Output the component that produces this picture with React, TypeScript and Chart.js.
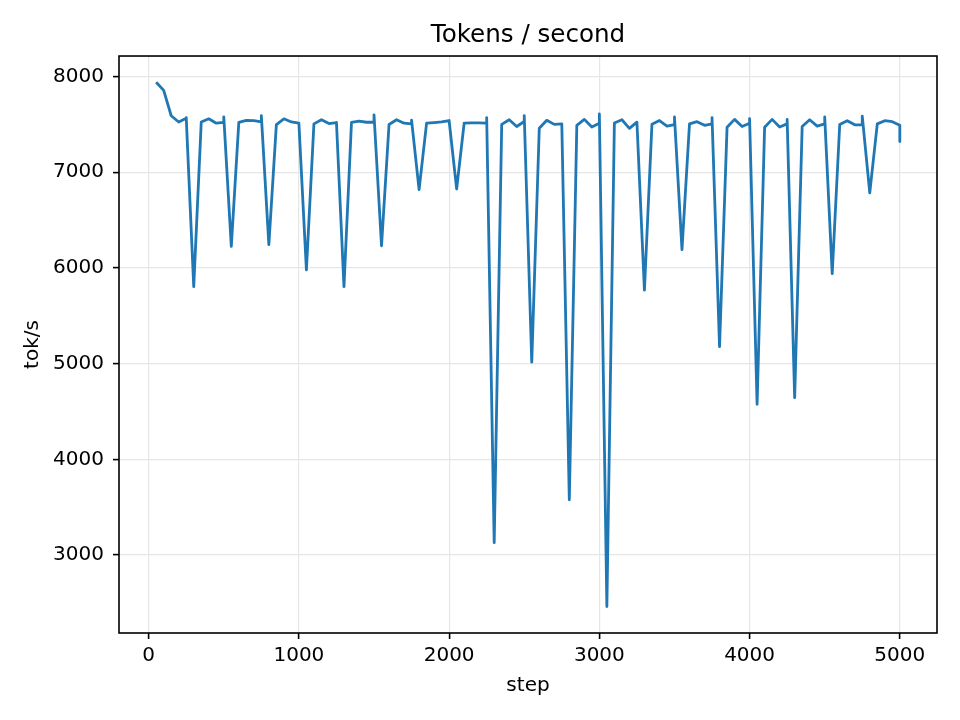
import React, { useEffect, useRef } from "react";
import { Chart, registerables } from "chart.js";
import type { Plugin } from "chart.js";

Chart.register(...registerables);

// logged steps; eval steps (every 250) show up twice
const steps = [
  50, 100, 150, 200, 250, 250, 300, 350, 400, 450, 500, 500,
  550, 600, 650, 700, 750, 750, 800, 850, 900, 950, 1000, 1000,
  1050, 1100, 1150, 1200, 1250, 1250, 1300, 1350, 1400, 1450, 1500, 1500,
  1550, 1600, 1650, 1700, 1750, 1750, 1800, 1850, 1900, 1950, 2000, 2000,
  2050, 2100, 2150, 2200, 2250, 2250, 2300, 2350, 2400, 2450, 2500, 2500,
  2550, 2600, 2650, 2700, 2750, 2750, 2800, 2850, 2900, 2950, 3000, 3000,
  3050, 3100, 3150, 3200, 3250, 3250, 3300, 3350, 3400, 3450, 3500, 3500,
  3550, 3600, 3650, 3700, 3750, 3750, 3800, 3850, 3900, 3950, 4000, 4000,
  4050, 4100, 4150, 4200, 4250, 4250, 4300, 4350, 4400, 4450, 4500, 4500,
  4550, 4600, 4650, 4700, 4750, 4750, 4800, 4850, 4900, 4950, 5000, 5000,
];

const tokPerSec = [
  7940, 7855, 7590, 7525, 7565, 7570, 5805, 7525, 7558, 7512, 7520, 7578,
  6225, 7520, 7542, 7538, 7525, 7592, 6243, 7498, 7558, 7525, 7512, 7510,
  5980, 7505, 7548, 7508, 7518, 7520, 5805, 7520, 7535, 7522, 7522, 7600,
  6232, 7498, 7548, 7512, 7505, 7545, 6818, 7512, 7518, 7525, 7540, 7538,
  6825, 7512, 7515, 7515, 7512, 7570, 3130, 7500, 7548, 7478, 7530, 7592,
  5015, 7460, 7542, 7500, 7505, 7505, 3578, 7490, 7552, 7472, 7512, 7608,
  2462, 7515, 7548, 7458, 7523, 7523, 5768, 7500, 7540, 7482, 7498, 7578,
  6192, 7505, 7528, 7490, 7505, 7570, 5178, 7470, 7552, 7478, 7512, 7560,
  4575, 7470, 7552, 7472, 7505, 7552, 4645, 7478, 7548, 7482, 7505, 7578,
  5940, 7498, 7538, 7495, 7495, 7585, 6785, 7505, 7538, 7528, 7490, 7320,
];

const xTicks = [0, 1000, 2000, 3000, 4000, 5000];
const yTicks = [3000, 4000, 5000, 6000, 7000, 8000];

const FONT = "'DejaVu Sans', sans-serif";

// matplotlib draws a closed frame round the axes
const framePlugin: Plugin<"line"> = {
  id: "frame",
  afterDraw: (chart) => {
    const { left, top, right, bottom } = chart.chartArea;
    const ctx = chart.ctx;
    ctx.save();
    ctx.strokeStyle = "#000";
    ctx.lineWidth = 1.6;
    ctx.strokeRect(left, top, right - left, bottom - top);
    ctx.restore();
  },
};

const App: React.FC = () => {
  const canvasRef = useRef<HTMLCanvasElement | null>(null);
  const chartRef = useRef<Chart | null>(null);

  useEffect(() => {
    const canvas = canvasRef.current;
    if (!canvas) return;
    const ctx = canvas.getContext("2d");
    if (!ctx) return;

    if (chartRef.current) {
      chartRef.current.destroy();
      chartRef.current = null;
    }

    const tickFont = { family: FONT, size: 20 };

    chartRef.current = new Chart(ctx, {
      type: "line",
      data: {
        datasets: [
          {
            data: steps.map((s, i) => ({ x: s, y: tokPerSec[i] })),
            borderColor: "#1f77b4",
            borderWidth: 2.8,
            borderJoinStyle: "round",
            pointRadius: 0,
            tension: 0,
            fill: false,
          },
        ],
      },
      options: {
        responsive: false,
        animation: false,
        devicePixelRatio: 1,
        layout: { padding: { left: 0, right: 23, top: 0, bottom: 0 } },
        plugins: {
          legend: { display: false },
          tooltip: { enabled: false },
          title: {
            display: true,
            fullSize: false, // centre over the plot area, like matplotlib
            text: "Tokens / second",
            color: "#000",
            font: { family: FONT, size: 24.6, weight: "normal" },
            padding: { top: 21, bottom: 5.5 },
          },
        },
        scales: {
          x: {
            type: "linear",
            min: -197.5,
            max: 5247.5,
            afterBuildTicks: (scale) => {
              scale.ticks = xTicks.map((v) => ({ value: v }));
            },
            afterFit: (scale) => {
              scale.height = 87;
            },
            ticks: {
              color: "#000",
              font: tickFont,
              padding: 5,
              maxRotation: 0,
              autoSkip: false,
              callback: (v) => String(v),
            },
            grid: {
              color: "#e6e6e6",
              lineWidth: 1.2,
              tickColor: "#000",
              tickWidth: 1.6,
              tickLength: 6,
            },
            border: { display: false },
            title: {
              display: true,
              text: "step",
              color: "#000",
              font: tickFont,
              padding: { top: 0, bottom: 22 },
            },
          },
          y: {
            type: "linear",
            min: 2186,
            max: 8214,
            afterBuildTicks: (scale) => {
              scale.ticks = yTicks.map((v) => ({ value: v }));
            },
            afterFit: (scale) => {
              scale.width = 119;
            },
            ticks: {
              color: "#000",
              font: tickFont,
              padding: 9,
              autoSkip: false,
              callback: (v) => String(v),
            },
            grid: {
              color: "#e6e6e6",
              lineWidth: 1.2,
              tickColor: "#000",
              tickWidth: 1.6,
              tickLength: 6,
            },
            border: { display: false },
            title: {
              display: true,
              text: "tok/s",
              color: "#000",
              font: tickFont,
              padding: { top: 21, bottom: 0 },
            },
          },
        },
      },
      plugins: [framePlugin],
    });

    return () => {
      if (chartRef.current) {
        chartRef.current.destroy();
        chartRef.current = null;
      }
    };
  }, []);

  return (
    <div style={{ position: "fixed", left: 0, top: 0, width: 960, height: 720, background: "#fff" }}>
      <canvas ref={canvasRef} width={960} height={720} style={{ width: 960, height: 720 }} />
    </div>
  );
};

export default App;
